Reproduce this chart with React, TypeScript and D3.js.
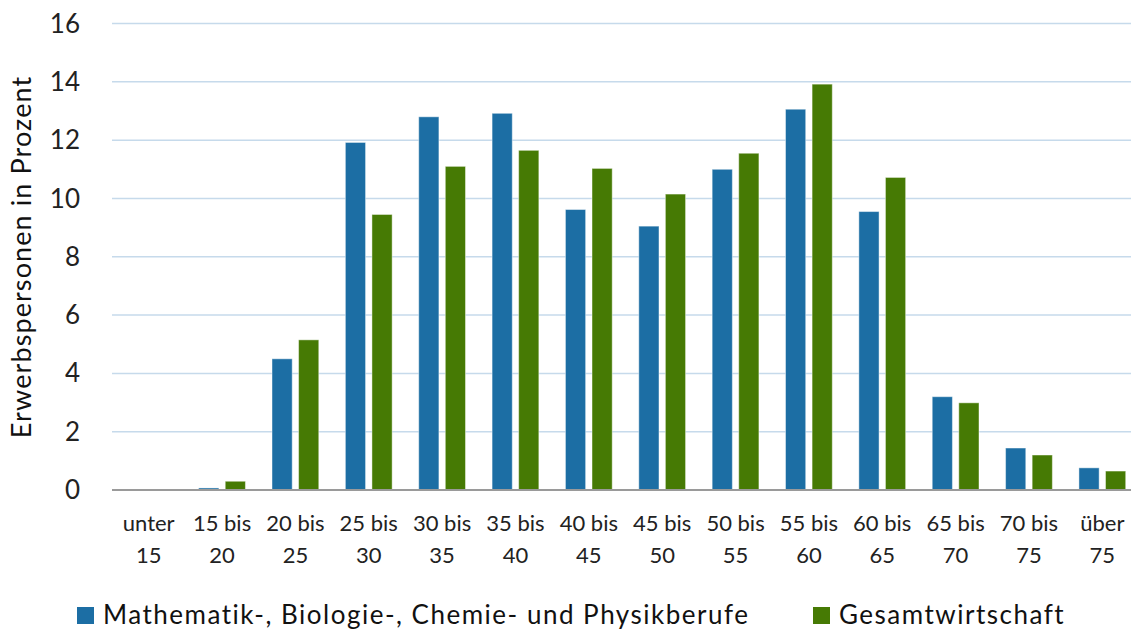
import React, { useRef, useEffect } from "react";
import * as d3 from "d3";

const categories = [
  ["unter", "15"],
  ["15 bis", "20"],
  ["20 bis", "25"],
  ["25 bis", "30"],
  ["30 bis", "35"],
  ["35 bis", "40"],
  ["40 bis", "45"],
  ["45 bis", "50"],
  ["50 bis", "55"],
  ["55 bis", "60"],
  ["60 bis", "65"],
  ["65 bis", "70"],
  ["70 bis", "75"],
  ["über", "75"],
];

const seriesNames = [
  "Mathematik-, Biologie-, Chemie- und Physikberufe",
  "Gesamtwirtschaft",
];

const mintValues = [0, 0.07, 4.5, 11.92, 12.8, 12.92, 9.62, 9.05, 11.0, 13.06, 9.55, 3.2, 1.44, 0.76];
const totalValues = [0, 0.3, 5.15, 9.45, 11.1, 11.65, 11.03, 10.15, 11.55, 13.92, 10.72, 2.99, 1.2, 0.65];

const yTicks = [0, 2, 4, 6, 8, 10, 12, 14, 16];

const colors = ["#1c6ea4", "#467a04"];

const App = () => {
  const svgRef = useRef<SVGSVGElement>(null);

  useEffect(() => {
    const width = 1131;
    const height = 631;
    const margin = { top: 23.5, right: -8, bottom: 141, left: 112 };
    const font = "Lato, 'Open Sans', sans-serif";

    const svg = d3.select(svgRef.current);
    svg.selectAll("*").remove();
    svg.attr("width", width).attr("height", height).style("background", "#fff");

    const keys = categories.map((c) => c.join(" "));

    const x = d3
      .scaleBand()
      .domain(keys)
      .range([margin.left, width - margin.right])
      .paddingInner(0)
      .paddingOuter(0);

    const x1 = d3
      .scaleBand()
      .domain(["0", "1"])
      .range([0, x.bandwidth()])
      .paddingInner(0.24)
      .paddingOuter(0.5);

    const y = d3
      .scaleLinear()
      .domain([0, 16])
      .range([height - margin.bottom, margin.top]);

    // gridlines
    svg
      .append("g")
      .selectAll("line")
      .data(yTicks.slice(1))
      .enter()
      .append("line")
      .attr("x1", margin.left)
      .attr("x2", width)
      .attr("y1", (d) => y(d))
      .attr("y2", (d) => y(d))
      .attr("stroke", "#c6daeb")
      .attr("stroke-width", 1.5);

    // y tick labels
    svg
      .append("g")
      .selectAll("text")
      .data(yTicks)
      .enter()
      .append("text")
      .attr("x", 80)
      .attr("y", (d) => y(d))
      .attr("dy", "0.35em")
      .attr("text-anchor", "end")
      .style("font-family", font)
      .style("font-size", "26px")
      .style("fill", "#222")
      .text((d) => d);

    // bars
    const series = [mintValues, totalValues];
    series.forEach((vals, si) => {
      svg
        .append("g")
        .selectAll("rect")
        .data(vals)
        .enter()
        .append("rect")
        .attr("x", (d, i) => (x(keys[i]) as number) + (x1(String(si)) as number))
        .attr("y", (d) => y(d))
        .attr("width", x1.bandwidth())
        .attr("height", (d) => y(0) - y(d))
        .attr("fill", colors[si])
        .attr("stroke", "rgba(255,255,255,0.45)")
        .attr("stroke-width", 1);
    });

    // x axis line
    svg
      .append("line")
      .attr("x1", margin.left)
      .attr("x2", width)
      .attr("y1", y(0))
      .attr("y2", y(0))
      .attr("stroke", "#9a9a9a")
      .attr("stroke-width", 2);

    // category labels
    const labels = svg
      .append("g")
      .selectAll("text")
      .data(categories)
      .enter()
      .append("text")
      .attr("text-anchor", "middle")
      .style("font-family", font)
      .style("font-size", "22px")
      .style("fill", "#222");
    labels
      .append("tspan")
      .attr("x", (d) => (x(d.join(" ")) as number) + x.bandwidth() / 2)
      .attr("y", 531)
      .text((d) => d[0]);
    labels
      .append("tspan")
      .attr("x", (d) => (x(d.join(" ")) as number) + x.bandwidth() / 2)
      .attr("y", 563)
      .text((d) => d[1]);

    // y axis title
    svg
      .append("text")
      .attr("transform", `translate(31,257) rotate(-90)`)
      .attr("text-anchor", "middle")
      .style("font-family", font)
      .style("font-size", "27px")
      .style("letter-spacing", "1.1px")
      .style("fill", "#111")
      .text("Erwerbspersonen in Prozent");

    // legend
    const legendX = [77, 813];
    const legend = svg
      .append("g")
      .selectAll("g")
      .data(seriesNames)
      .enter()
      .append("g")
      .attr("transform", (d, i) => `translate(${legendX[i]},607)`);
    legend
      .append("rect")
      .attr("width", 17)
      .attr("height", 17)
      .attr("fill", (d, i) => colors[i]);
    legend
      .append("text")
      .attr("x", 26)
      .attr("y", 17)
      .style("font-family", font)
      .style("font-size", "26px")
      .style("letter-spacing", "1.5px")
      .style("fill", "#111")
      .text((d) => d);
  }, []);

  return (
    <div>
      <svg ref={svgRef} style={{ position: "absolute", left: 0, top: 0 }}></svg>
    </div>
  );
};

export default App;
